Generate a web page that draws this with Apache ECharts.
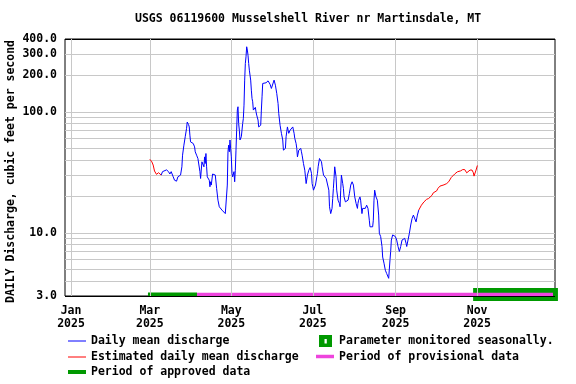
<!DOCTYPE html>
<html>
<head>
<meta charset="utf-8">
<script src="https://cdn.jsdelivr.net/npm/echarts@6/dist/echarts.min.js"></script>
<style>
    html, body { margin: 0; padding: 0; background: #fff; }
    #chart { width: 576px; height: 384px; }
</style>
</head>
<body>
<div id="chart"></div>
<script>
var FONT = '"DejaVu Sans Mono", monospace';
var DAY = 86400000;
var yearStart = new Date(2025, 0, 1).getTime();

// days are counted from Jan 1 2025 (0 = Jan 1)
var estDays1 = [59, 60.5, 61.5, 62.5, 64, 64.5, 65.5, 66.5, 67.5];
var estFlow1 = [40.5, 38.6, 36.3, 32.4, 30.4, 29.4, 31.4, 30.6, 30.0];

var dailyDays = [67.5, 68.5, 69, 71.5, 72, 73, 74, 75, 76, 76.5, 77.5, 79, 80, 81, 82, 83, 83.5, 84.5, 85.5, 86.5,
    87, 88, 88.5, 89, 89.5, 91.5, 92.5, 93, 94, 95, 95.5, 96.5, 97, 98, 99, 99.5, 100, 100.5, 101, 101.5,
    102, 103, 103.5, 104, 104.5, 105, 106, 107, 108, 109, 110, 111, 112, 113, 114, 115.5, 116.5, 117, 117.5, 118,
    118.5, 119, 120, 120.5, 121, 122, 122.5, 123, 123.5, 124, 124.5, 125, 125.5, 126, 126.5, 127.5, 128.5, 129, 129.5, 130,
    130.5, 131, 131.5, 132, 132.5, 133, 133.5, 134.5, 135, 135.5, 136, 136.5, 137, 138, 138.5, 139, 140, 140.5, 141.5, 142,
    142.5, 143, 143.5, 144.5, 146, 147.5, 148.5, 149, 150, 151, 152, 153, 154, 155, 155.5, 156.5, 157.5, 158.5, 159, 160,
    160.5, 161, 162, 162.5, 163, 164, 165, 166, 166.5, 167, 167.5, 168.5, 169, 169.5, 170.5, 171, 172, 172.5, 173, 174,
    175, 175.5, 176, 177, 178, 179, 180, 180.5, 181, 181.5, 182.5, 183, 184, 184.5, 185, 186, 187, 187.5, 188, 189,
    190, 191, 192, 193, 193.5, 194.4, 195.4, 195.9, 196.4, 196.9, 197.4, 198.4, 198.9, 199.9, 200.9, 201.4, 201.9, 202.4, 203.4, 203.9,
    204.4, 205.4, 206.4, 207.4, 208.4, 209.4, 210.4, 211.4, 212.4, 213.4, 214.4, 214.8, 215.3, 216.3, 216.8, 217.8, 218.3, 219.3, 220.3, 221.3,
    222.3, 223.3, 223.8, 224.8, 225.8, 226.3, 226.8, 227.3, 228.3, 229.3, 230.3, 230.8, 231.8, 232.8, 233.3, 234.3, 235.3, 236.3, 237.8, 238.8,
    239.3, 239.8, 240.8, 241.8, 242.8, 243.8, 244.8, 245.8, 246.3, 246.8, 247.8, 248.8, 249.8, 250.8, 251.3, 252.3, 253.3, 254.3, 255.3, 256.3,
    257.3, 258.3, 259.3, 260.3];
var dailyFlow = [30.0, 32.0, 32.7, 33.1, 34.0, 32.0, 30.6, 32.0, 31.0, 29.0, 27.2, 26.7, 29.0, 28.1, 30.0, 35.1, 43.8, 53.0, 62.2, 73.0,
    82.3, 78.5, 75.0, 64.1, 56.4, 54.7, 51.3, 46.7, 43.8, 41.1, 42.4, 32.0, 28.1, 38.6, 39.8, 35.1, 42.4, 37.4, 45.2, 35.1,
    29.0, 30.0, 27.2, 24.0, 26.4, 24.8, 30.6, 31.0, 30.0, 23.3, 18.6, 16.4, 15.9, 15.4, 14.9, 14.4, 14.0, 24.8, 46.7, 53.0,
    46.7, 58.5, 42.4, 31.0, 29.0, 32.0, 26.4, 32.9, 48.2, 70.5, 103.4, 110.1, 80.0, 70.5, 58.5, 62.2, 80.0, 88.0, 113.5, 182.9,
    251, 285, 345, 324, 294, 251, 221, 182.9, 151, 129, 121, 103.4, 106.7, 108.8, 100, 94, 85.5, 75, 73, 77.5,
    103.4, 133, 171.6, 177, 173.8, 180.3, 177, 169, 156, 151, 182.9, 166, 142, 117, 97, 77.5, 66.4, 58.5, 48.2, 46.7,
    49.8, 62.2, 75, 70.5, 66.4, 70.5, 73, 75, 70.5, 66.4, 60.3, 54.7, 49.8, 42.4, 48.2, 49.8, 49.8, 46.7, 43.8, 37.4,
    32.9, 29.0, 25.5, 30.0, 32.9, 34.6, 31.0, 25.5, 24.0, 22.5, 23.3, 24.8, 29.0, 31.0, 35.1, 41.1, 42.4, 38.6, 35.1, 30.0,
    29.0, 28.1, 29.0, 22.5, 16.4, 14.4, 15.9, 19.2, 23.3, 28.1, 35.1, 29.0, 22.5, 18.6, 17.5, 16.4, 22.5, 30.0, 25.5, 23.3,
    19.8, 18.0, 17.5, 18.6, 21.2, 24.8, 26.4, 24.8, 19.8, 17.5, 15.9, 17.5, 18.6, 19.8, 18.6, 14.4, 15.9, 16.4, 15.9, 16.9,
    15.9, 12.7, 11.2, 11.6, 11.2, 12.7, 18.6, 22.5, 19.8, 18.6, 14.0, 9.9, 9.3, 7.7, 6.3, 5.6, 4.9, 4.6, 4.2, 6.0,
    7.0, 8.7, 9.6, 9.6, 9.3, 8.7, 7.7, 7.0, 6.8, 7.7, 8.7, 8.8, 9.0, 8.2, 7.7, 7.9, 9.9, 11.6, 13.1, 14.0,
    14.4, 12.3, 14.0, 15.4];

var estDays2 = [260.3, 261.3, 262.3, 263.2, 264.2, 265.2, 266.2, 267.7, 268.7, 270.2, 271.2, 272.2, 273.7, 274.7, 275.2, 276.2, 277.7, 279.2, 281.2, 282.7,
    283.7, 284.7, 285.7, 287.2, 288.2, 289.2, 290.2, 291.7, 293.2, 294.7, 295.7, 296.2, 297.2, 298.7, 300.2, 301.2, 301.7, 302.7, 303.2, 304.2];
var estFlow2 = [15.4, 15.9, 16.9, 17.5, 18.0, 18.6, 18.9, 19.2, 19.8, 20.4, 21.4, 21.8, 22.2, 23.3, 24.0, 24.3, 24.6, 24.9, 25.5, 26.4,
    27.2, 28.7, 29.4, 30.6, 31.3, 31.9, 32.3, 32.5, 33.3, 33.3, 32.5, 31.3, 32.2, 33.0, 33.0, 31.3, 29.4, 29.0, 33.0, 36.0];

// status bars along the bottom
var approvedDays = [57.6, 94.3];
var provisionalDays = [94.3, 360.8];
var seasonalDays = [301, 364.5];
var barLevel = 3.09;

var yGridValues = [3, 4, 5, 6, 7, 8, 9, 10, 20, 30, 40, 50, 60, 70, 80, 90, 100, 200, 300, 400];
var yLabelValues = [3, 10, 100, 200, 300, 400];
var xTickDates = ['2025-01-01', '2025-03-01', '2025-05-01', '2025-07-01', '2025-09-01', '2025-11-01'];
var xTickLabels = ['Jan\n2025', 'Mar\n2025', 'May\n2025', 'Jul\n2025', 'Sep\n2025', 'Nov\n2025'];

function toTime(d) {
    return yearStart + d * DAY;
}
function pairs(days, values) {
    return days.map(function (d, i) { return [toTime(d), values[i]]; });
}

var labelStyle = { color: '#000', fontFamily: FONT, fontSize: 11.5, fontWeight: 'bold' };

// horizontal grid lines with labels on the marked values
var yLines = yGridValues.map(function (v) {
    var edge = (v === 3 || v === 400);
    return {
        yAxis: v,
        lineStyle: { color: edge ? '#000' : '#c8c8c8', width: 1, type: 'solid' },
        label: {
            show: yLabelValues.indexOf(v) >= 0,
            position: 'start',
            distance: 8,
            formatter: v.toFixed(1),
            color: '#000', fontFamily: FONT, fontSize: 11.5, fontWeight: 'bold'
        }
    };
});
var xLines = xTickDates.map(function (t, i) {
    return {
        xAxis: t,
        lineStyle: { color: '#c8c8c8', width: 1, type: 'solid' },
        label: {
            show: true,
            position: 'start',
            distance: 9,
            formatter: xTickLabels[i],
            lineHeight: 13,
            color: '#000', fontFamily: FONT, fontSize: 11.5, fontWeight: 'bold'
        }
    };
});

var myChart = echarts.init(document.getElementById('chart'), null, { renderer: 'canvas' });

var option = {
    animation: false,
    backgroundColor: '#fff',
    title: {
        text: 'USGS 06119600 Musselshell River nr Martinsdale, MT',
        left: 135,
        top: 13,
        padding: 0,
        textStyle: labelStyle
    },
    grid: {
        left: 65, right: 21, top: 39, bottom: 88,
        outerBoundsMode: 'none',
        show: true, borderColor: '#000', borderWidth: 1, backgroundColor: '#fff'
    },
    xAxis: {
        type: 'time',
        min: toTime(-4.5),
        max: toTime(362.3),
        axisLine: { show: false },
        axisTick: { show: false },
        axisLabel: { show: false },
        splitLine: { show: false }
    },
    yAxis: {
        type: 'log',
        logBase: 10,
        min: 3,
        max: 400,
        name: 'DAILY Discharge, cubic feet per second',
        nameLocation: 'middle',
        nameGap: 48,
        nameTextStyle: { color: '#000', fontFamily: FONT, fontSize: 11.5, fontWeight: 'bold', padding: [0, 8, 0, 0] },
        axisLine: { show: false },
        axisTick: { show: false },
        axisLabel: { show: false },
        splitLine: { show: false }
    },
    series: [
        {
            name: 'grid',
            type: 'line',
            z: 1,
            data: [],
            markLine: {
                silent: true,
                symbol: 'none',
                animation: false,
                data: yLines.concat(xLines)
            }
        },
        {
            name: 'Parameter monitored seasonally.',
            type: 'line', z: 3, clip: false, symbol: 'none',
            lineStyle: { color: '#009900', width: 13, cap: 'butt' },
            data: pairs(seasonalDays, [barLevel, barLevel])
        },
        {
            name: 'Period of approved data',
            type: 'line', z: 3, clip: false, symbol: 'none',
            lineStyle: { color: '#009900', width: 4, cap: 'butt' },
            data: pairs(approvedDays, [barLevel, barLevel])
        },
        {
            name: 'Period of provisional data',
            type: 'line', z: 4, clip: false, symbol: 'none',
            lineStyle: { color: '#ee44dd', width: 3.5, cap: 'butt' },
            data: pairs(provisionalDays, [barLevel, barLevel])
        },
        {
            name: 'Estimated daily mean discharge',
            type: 'line', z: 5, symbol: 'none',
            lineStyle: { color: '#ff0000', width: 1 },
            data: pairs(estDays1, estFlow1)
        },
        {
            name: 'Daily mean discharge',
            type: 'line', z: 5, symbol: 'none',
            lineStyle: { color: '#0000ff', width: 1 },
            data: pairs(dailyDays, dailyFlow)
        },
        {
            name: 'Estimated daily mean discharge',
            type: 'line', z: 5, symbol: 'none',
            lineStyle: { color: '#ff0000', width: 1 },
            data: pairs(estDays2, estFlow2)
        }
    ],
    // legend drawn by hand to match the USGS layout
    graphic: [
        { type: 'line', shape: { x1: 68, y1: 341, x2: 86, y2: 341 }, style: { stroke: '#0000ff', lineWidth: 1 } },
        { type: 'text', x: 91, y: 341, style: { text: 'Daily mean discharge', fill: '#000', font: 'bold 11.5px ' + FONT, verticalAlign: 'middle' } },
        { type: 'line', shape: { x1: 68, y1: 357, x2: 86, y2: 357 }, style: { stroke: '#ff0000', lineWidth: 1 } },
        { type: 'text', x: 91, y: 357, style: { text: 'Estimated daily mean discharge', fill: '#000', font: 'bold 11.5px ' + FONT, verticalAlign: 'middle' } },
        { type: 'line', shape: { x1: 68, y1: 372, x2: 86, y2: 372 }, style: { stroke: '#009900', lineWidth: 4 } },
        { type: 'text', x: 91, y: 372.5, style: { text: 'Period of approved data', fill: '#000', font: 'bold 11.5px ' + FONT, verticalAlign: 'middle' } },
        { type: 'rect', shape: { x: 319, y: 335, width: 13, height: 12 }, style: { fill: '#009900' } },
        { type: 'rect', shape: { x: 324.5, y: 339, width: 2.3, height: 4.5 }, style: { fill: '#fff' } },
        { type: 'text', x: 339, y: 341, style: { text: 'Parameter monitored seasonally.', fill: '#000', font: 'bold 11.5px ' + FONT, verticalAlign: 'middle' } },
        { type: 'line', shape: { x1: 316, y1: 356.5, x2: 334, y2: 356.5 }, style: { stroke: '#ee44dd', lineWidth: 3.5 } },
        { type: 'text', x: 339, y: 357, style: { text: 'Period of provisional data', fill: '#000', font: 'bold 11.5px ' + FONT, verticalAlign: 'middle' } }
    ]
};

myChart.setOption(option);
</script>
</body>
</html>
